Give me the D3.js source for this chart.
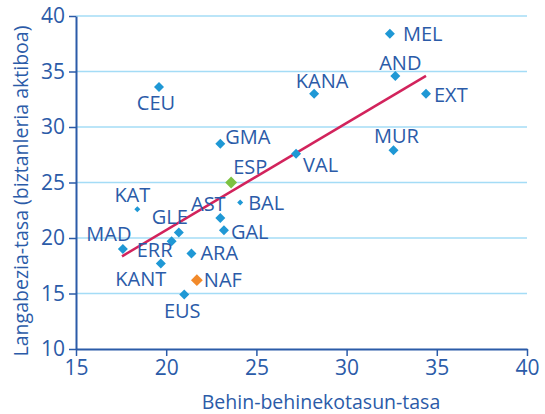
<!DOCTYPE html>
<html>
<head>
<meta charset="utf-8">
<script src="https://cdn.jsdelivr.net/npm/d3@7"></script>
<style>
  body { margin: 0; background: #fff; }
  svg text { font-family: "Open Sans", sans-serif; fill: #2b5ba8; }
</style>
</head>
<body>
<svg id="chart" width="545" height="414"></svg>
<script>
// regions
const codes = ['MEL', 'AND', 'KANA', 'EXT', 'MUR', 'VAL', 'CEU', 'GMA', 'ESP', 'BAL', 'KAT',
               'AST', 'GAL', 'GLE', 'ERR', 'MAD', 'KANT', 'ARA', 'NAF', 'EUS'];
// behin-behinekotasun-tasa
const tempRate = [32.4, 32.7, 28.2, 34.4, 32.6, 27.2, 19.6, 23.0, 23.6, 24.1, 18.4,
                  23.0, 23.2, 20.7, 20.3, 17.6, 19.7, 21.4, 21.7, 21.0];
// langabezia-tasa
const unempRate = [38.4, 34.6, 33.0, 33.0, 27.9, 27.6, 33.6, 28.5, 25.0, 23.2, 22.6,
                   21.8, 20.7, 20.5, 19.7, 19.0, 17.7, 18.6, 16.2, 14.9];
const trendX = [17.55, 34.4];
const trendY = [18.35, 34.6];
const xTicks = [15, 20, 25, 30, 35, 40];
const yTicks = [10, 15, 20, 25, 30, 35, 40];

// label placement, relative to the marker
const labelPos = {
    MEL: [13, 7, 'start'], AND: [5, -6, 'middle'], KANA: [8, -6, 'middle'], EXT: [8, 8, 'start'],
    MUR: [3, -7, 'middle'], VAL: [7, 18, 'start'], CEU: [-3, 23, 'middle'], GMA: [5, 0, 'start'],
    ESP: [2, -9, 'start'], BAL: [8, 8, 'start'], KAT: [-5, -7, 'middle'], AST: [-12, -7, 'middle'],
    GAL: [7, 9, 'start'], GLE: [-9, -8, 'middle'], ERR: [-17, 16, 'middle'], MAD: [-14, -8, 'middle'],
    KANT: [-20, 22, 'middle'], ARA: [9, 6, 'start'], NAF: [7, 7, 'start'], EUS: [-2, 23, 'middle']
};

const svg = d3.select('#chart');
const margin = { left: 76, right: 18, top: 16, bottom: 65 };
const width = 545, height = 414;

const x = d3.scaleLinear().domain([15, 40]).range([margin.left, width - margin.right]);
const y = d3.scaleLinear().domain([10, 40]).range([height - margin.bottom, margin.top]);

const axisColor = '#2b5ba8';

// grid
svg.append('g')
    .selectAll('line')
    .data(yTicks.filter(d => d > 10))
    .enter()
    .append('line')
    .attr('x1', x(15))
    .attr('x2', x(40))
    .attr('y1', d => y(d))
    .attr('y2', d => y(d))
    .attr('stroke', '#a4dcf6')
    .attr('stroke-width', 1.5);

// axes
const xAxis = svg.append('g')
    .attr('transform', `translate(0,${y(10)})`)
    .call(d3.axisBottom(x).tickValues(xTicks).tickSize(7).tickSizeOuter(0));
const yAxis = svg.append('g')
    .attr('transform', `translate(${x(15)},0)`)
    .call(d3.axisLeft(y).tickValues(yTicks).tickSize(7).tickSizeOuter(0));

[xAxis, yAxis].forEach(a => {
    a.select('.domain').attr('stroke', axisColor).attr('stroke-width', 2);
    a.selectAll('.tick line').attr('stroke', axisColor).attr('stroke-width', 1.5);
    a.selectAll('.tick text')
        .style('font-family', '"Open Sans", sans-serif')
        .style('font-size', '21px')
        .attr('fill', axisColor);
});
xAxis.selectAll('.tick text').attr('dy', '0.95em').attr('y', 6);
yAxis.selectAll('.tick text').attr('x', -11);

// trend line
svg.append('line')
    .attr('x1', x(trendX[0]))
    .attr('y1', y(trendY[0]))
    .attr('x2', x(trendX[1]))
    .attr('y2', y(trendY[1]))
    .attr('stroke', '#d2235c')
    .attr('stroke-width', 2.5);

// points
const points = codes.map((c, i) => ({ code: c, tx: tempRate[i], ur: unempRate[i] }));

function pointColor(d) {
    if (d.code === 'ESP') return '#7cc242';
    if (d.code === 'NAF') return '#f28a2a';
    return '#1f98d5';
}
function pointSize(d) {
    if (d.code === 'BAL' || d.code === 'KAT') return 18;
    if (d.code === 'ESP' || d.code === 'NAF') return 70;
    return 50;
}

svg.append('g')
    .selectAll('path')
    .data(points)
    .enter()
    .append('path')
    .attr('d', d => d3.symbol().type(d3.symbolSquare).size(pointSize(d))())
    .attr('transform', d => `translate(${x(d.tx)},${y(d.ur)}) rotate(45)`)
    .attr('fill', pointColor);

svg.append('g')
    .selectAll('text')
    .data(points)
    .enter()
    .append('text')
    .attr('x', d => x(d.tx) + labelPos[d.code][0])
    .attr('y', d => y(d.ur) + labelPos[d.code][1])
    .attr('text-anchor', d => labelPos[d.code][2])
    .style('font-size', '20px')
    .text(d => d.code);

// axis titles
svg.append('text')
    .attr('x', 321)
    .attr('y', 409)
    .attr('text-anchor', 'middle')
    .style('font-size', '19.5px')
    .text('Behin-behinekotasun-tasa');

svg.append('text')
    .attr('transform', `translate(28,191) rotate(-90)`)
    .attr('text-anchor', 'middle')
    .style('font-size', '19.5px')
    .text('Langabezia-tasa (biztanleria aktiboa)');
</script>
</body>
</html>
